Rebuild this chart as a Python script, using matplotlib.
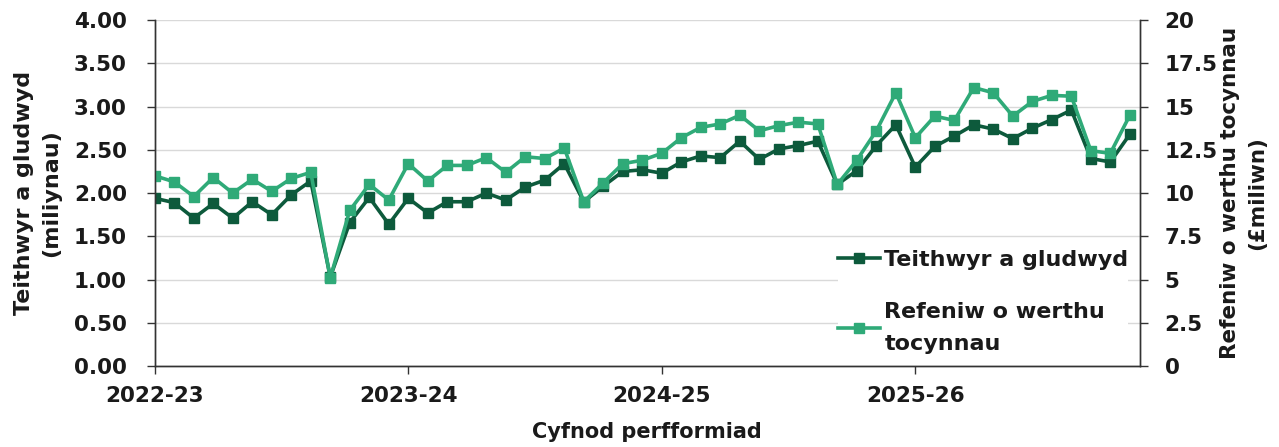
import matplotlib
matplotlib.use("Agg")
import matplotlib.pyplot as plt
import numpy as np

plt.rcParams['font.family'] = ['DejaVu Sans']
plt.rcParams['font.weight'] = 'bold'
plt.rcParams['axes.labelweight'] = 'bold'

# four-week periods, 13 per year, from 2022-23 P1
year_labels = ["2022-23", "2023-24", "2024-25", "2025-26"]

# passengers carried (millions)
passengers = [
    1.94, 1.89, 1.71, 1.88, 1.71, 1.90, 1.75, 1.98, 2.14, 1.03, 1.66, 1.95, 1.64,
    1.94, 1.77, 1.90, 1.90, 2.00, 1.92, 2.07, 2.15, 2.34, 1.90, 2.08, 2.25, 2.27,
    2.23, 2.36, 2.43, 2.41, 2.60, 2.39, 2.51, 2.55, 2.60, 2.10, 2.26, 2.55, 2.79,
    2.30, 2.54, 2.66, 2.79, 2.74, 2.63, 2.75, 2.85, 2.96, 2.40, 2.36, 2.68,
]

# ticket revenue (£m)
revenue = [
    11.0, 10.65, 9.8, 10.9, 10.0, 10.8, 10.1, 10.85, 11.2, 5.1, 9.0, 10.5, 9.6,
    11.7, 10.7, 11.6, 11.6, 12.05, 11.2, 12.1, 12.0, 12.6, 9.5, 10.6, 11.7, 11.9,
    12.3, 13.2, 13.8, 14.0, 14.5, 13.6, 13.9, 14.1, 14.0, 10.5, 11.9, 13.6, 15.8,
    13.2, 14.45, 14.2, 16.1, 15.8, 14.45, 15.3, 15.65, 15.6, 12.45, 12.3, 14.5,
]

dark = "#0d5a3c"
light = "#2faa78"
axis_col = "#333333"
txt = "#1a1a1a"

x = np.arange(len(passengers))

fig = plt.figure(figsize=(12.79, 4.47), dpi=100)
ax = fig.add_axes([0.121, 0.181, 0.770, 0.774])
ax2 = ax.twinx()

l1, = ax.plot(x, passengers, color=dark, lw=2.6, marker="s", ms=7,
              label="Teithwyr a gludwyd")
l2, = ax2.plot(x, revenue, color=light, lw=2.6, marker="s", ms=7,
               label="Refeniw o werthu\ntocynnau")

ax.set_xlim(0, 50.5)
ax.set_ylim(0, 4)
ax2.set_ylim(0, 20)
ax.set_yticks(np.arange(0, 4.01, 0.5))
ax.set_yticklabels([f"{v:.2f}" for v in np.arange(0, 4.01, 0.5)])
ax2.set_yticks(np.arange(0, 20.01, 2.5))
ax2.set_yticklabels(["0", "2.5", "5", "7.5", "10", "12.5", "15", "17.5", "20"])
ax.set_xticks([0, 13, 26, 39])
ax.set_xticklabels(year_labels)

ax.grid(axis="y", color="#d9d9d9", lw=1)
ax.set_axisbelow(True)

for a in (ax, ax2):
    a.spines["top"].set_visible(False)
    for s in ("left", "right", "bottom"):
        a.spines[s].set_color(axis_col)
        a.spines[s].set_linewidth(1)
    a.tick_params(colors=axis_col, labelcolor=txt, labelsize=15.5,
                  length=6, width=1, pad=14)
ax.tick_params(axis="x", pad=8)
ax2.tick_params(axis="y", pad=12)

ax.set_ylabel("Teithwyr a gludwyd\n(miliynau)", fontsize=16, color=txt,
              labelpad=9, linespacing=1.45)
ax2.set_ylabel("Refeniw o werthu tocynnau\n(£miliwn)", fontsize=15.5,
               color=txt, labelpad=2, linespacing=1.4)
ax.set_xlabel("Cyfnod perfformiad", fontsize=15, color=txt, labelpad=12)

leg = ax2.legend(handles=[l1, l2], loc="lower right", bbox_to_anchor=(1.0, 0.003),
                 fontsize=16, frameon=True, facecolor="white", edgecolor="none",
                 framealpha=1, handlelength=1.9, handletextpad=0.2,
                 labelspacing=1.45, borderpad=0.0)
for t in leg.get_texts():
    t.set_color(txt)
    t.set_linespacing(1.75)

fig.savefig("out.png", dpi=100)
